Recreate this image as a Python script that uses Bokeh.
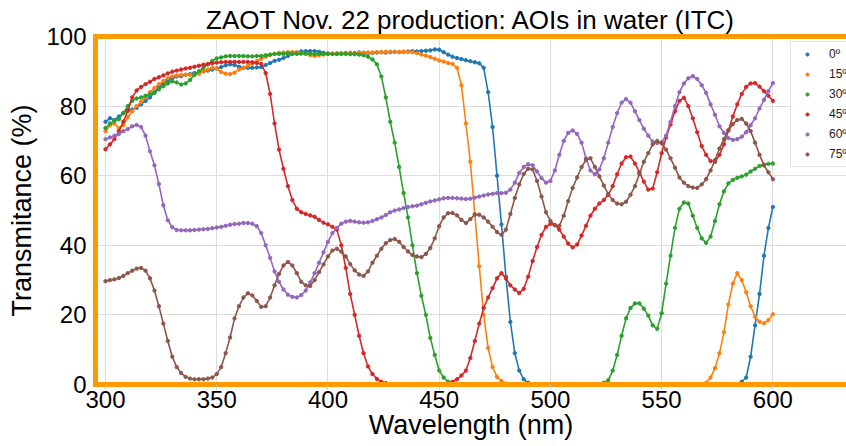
from bokeh.plotting import figure
from bokeh.models import Range1d, FixedTicker, LinearAxis, Legend, LegendItem
from bokeh.embed import file_html
from bokeh.resources import INLINE

# sampling grid (nm)
wavelength = list(range(300, 601, 2))

t0 = [75.5, 76.5, 76.0, 77.0, 78.0, 79.0, 79.0, 79.5, 80.5, 81.5,
      82.5, 84.0, 85.5, 86.6, 87.3, 88.0, 88.5, 88.6, 89.0, 89.2,
      89.5, 89.7, 90.0, 90.2, 90.5, 90.8, 91.2, 91.7, 92.0, 91.8,
      91.3, 91.0, 91.0, 91.0, 91.1, 91.2, 91.8, 92.4, 93.0, 93.3,
      93.8, 94.4, 95.0, 95.5, 95.7, 95.8, 95.8, 95.8, 95.6, 95.3,
      95.1, 95.0, 95.0, 95.1, 95.2, 95.3, 95.3, 95.4, 95.3, 95.2,
      95.3, 95.4, 95.5, 95.4, 95.5, 95.6, 95.5, 95.6, 95.7, 95.8,
      95.7, 95.8, 95.9, 96.0, 96.3, 96.2, 95.5, 94.8, 94.2, 93.8,
      93.5, 93.2, 92.9, 92.6, 92.3, 91.0, 84.0, 74.0, 60.0, 46.0,
      31.0, 18.0, 9.0, 4.0, 1.5, 0.5, 0.0, 0.0, 0.0, 0.0,
      0.0, 0.0, 0.0, 0.0, 0.0, 0.0, 0.0, 0.0, 0.0, 0.0,
      0.0, 0.0, 0.0, 0.0, 0.0, 0.0, 0.0, 0.0, 0.0, 0.0,
      0.0, 0.0, 0.0, 0.0, 0.0, 0.0, 0.0, 0.0, 0.0, 0.0,
      0.0, 0.0, 0.0, 0.0, 0.0, 0.0, 0.0, 0.0, 0.0, 0.0,
      0.0, 0.0, 0.0, 0.8, 2.0, 8.0, 17.0, 26.0, 37.0, 45.0,
      51.0]

t15 = [72.8, 74.5, 75.0, 73.6, 74.5, 76.8, 78.5, 80.0, 81.2, 82.5,
       84.0, 85.2, 86.3, 87.2, 88.0, 88.5, 88.8, 89.0, 89.0, 89.0,
       89.0, 89.3, 90.0, 90.5, 91.0, 90.8, 89.8, 89.3, 89.2, 89.6,
       90.5, 91.0, 91.6, 92.2, 92.9, 93.6, 94.2, 94.7, 95.0, 95.3,
       95.4, 95.5, 95.5, 95.5, 95.2, 95.0, 94.6, 94.4, 94.6, 94.8,
       95.0, 95.1, 95.2, 95.2, 95.3, 95.3, 95.2, 95.3, 95.4, 95.4,
       95.4, 95.5, 95.5, 95.6, 95.6, 95.6, 95.6, 95.6, 95.6, 95.5,
       95.2, 94.8, 94.5, 94.1, 93.6, 93.1, 92.8, 92.4, 92.1, 91.0,
       86.0, 75.0, 64.0, 49.0, 34.0, 20.0, 10.5, 5.0, 2.2, 1.0,
       0.3, 0.0, 0.0, 0.0, 0.0, 0.0, 0.0, 0.0, 0.0, 0.0,
       0.0, 0.0, 0.0, 0.0, 0.0, 0.0, 0.0, 0.0, 0.0, 0.0,
       0.0, 0.0, 0.0, 0.0, 0.0, 0.0, 0.0, 0.0, 0.0, 0.0,
       0.0, 0.0, 0.0, 0.0, 0.0, 0.0, 0.0, 0.0, 0.0, 0.0,
       0.0, 0.0, 0.0, 0.0, 0.0, 0.5, 2.0, 4.7, 9.0, 15.0,
       23.0, 29.0, 32.0, 30.0, 26.5, 22.5, 19.5, 18.0, 17.6, 18.5,
       20.2]

t30 = [73.7, 75.0, 75.8, 76.2, 78.0, 80.0, 81.5, 82.2, 82.5, 83.0,
       83.4, 83.8, 84.8, 85.7, 86.5, 87.1, 86.8, 86.2, 86.5, 87.5,
       89.0, 90.0, 91.0, 92.0, 93.0, 93.7, 94.0, 94.3, 94.4, 94.4,
       94.4, 94.4, 94.3, 94.3, 94.4, 94.4, 94.6, 94.8, 95.0, 95.0,
       95.0, 95.1, 95.1, 95.0, 95.1, 95.1, 95.1, 95.0, 95.0, 95.0,
       95.0, 95.0, 95.0, 95.0, 95.0, 94.9, 94.9, 94.8, 94.6, 94.2,
       93.4, 92.0, 88.5, 82.5, 75.5, 69.5, 62.5, 55.0, 48.0, 40.0,
       32.0, 25.5, 20.0, 13.4, 8.5, 4.0, 2.0, 0.8, 0.3, 0.0,
       0.0, 0.0, 0.0, 0.0, 0.0, 0.0, 0.0, 0.0, 0.0, 0.0,
       0.0, 0.0, 0.0, 0.0, 0.0, 0.0, 0.0, 0.0, 0.0, 0.0,
       0.0, 0.0, 0.0, 0.0, 0.0, 0.0, 0.0, 0.0, 0.0, 0.0,
       0.0, 0.0, 0.5, 1.2, 4.0, 8.5, 14.0, 19.0, 22.0, 23.3,
       23.3, 21.8, 19.8, 17.0, 16.0, 20.5, 29.0, 37.0, 45.0, 50.5,
       52.3, 52.0, 48.5, 45.0, 42.0, 40.7, 42.5, 47.0, 51.8, 55.5,
       57.8, 58.8, 59.4, 59.8, 60.3, 61.2, 62.0, 62.8, 63.2, 63.4,
       63.5]

t45 = [67.6, 69.0, 70.5, 72.8, 75.5, 78.6, 82.5, 84.5, 85.5, 86.3,
       87.0, 87.8, 88.3, 88.8, 89.4, 89.9, 90.2, 90.5, 90.8, 91.0,
       91.3, 91.6, 91.9, 92.1, 92.3, 92.5, 92.6, 92.7, 92.7, 92.7,
       92.7, 92.7, 92.7, 92.6, 92.4, 92.1, 89.5, 83.5, 75.0, 67.5,
       62.0, 57.0, 53.0, 50.5, 49.5, 49.0, 48.6, 48.2, 47.3, 46.5,
       46.0, 45.3, 44.5, 40.0, 33.5, 26.0, 20.0, 14.0, 9.0, 5.2,
       3.0, 1.6, 0.8, 0.4, 0.0, 0.0, 0.0, 0.0, 0.0, 0.0,
       0.0, 0.0, 0.0, 0.0, 0.0, 0.0, 0.0, 0.0, 0.8, 1.5,
       2.6, 4.0, 7.6, 12.5, 17.5, 22.0, 25.0, 27.7, 30.5, 32.0,
       30.5, 28.5, 27.3, 26.3, 27.5, 31.0, 35.5, 39.5, 43.0, 45.3,
       46.2, 45.8, 44.5, 42.5, 40.5, 39.4, 40.2, 42.8, 45.6, 48.5,
       50.5, 52.0, 53.0, 54.5, 57.0, 60.4, 63.5, 65.3, 65.5, 63.5,
       61.0, 58.3, 56.0, 56.3, 61.0, 66.5, 71.0, 74.7, 78.5, 81.5,
       82.4, 80.0, 76.5, 72.5, 68.5, 66.0, 64.2, 64.0, 66.0, 69.0,
       73.0, 77.0, 80.5, 83.5, 85.5, 86.5, 86.6, 85.6, 84.3, 83.0,
       81.5]

t60 = [70.5, 71.0, 71.5, 72.0, 72.8, 73.4, 74.2, 74.6, 74.0, 71.5,
       67.0, 63.0, 57.6, 51.5, 47.2, 45.2, 44.4, 44.3, 44.3, 44.3,
       44.4, 44.5, 44.6, 44.7, 44.9, 45.1, 45.3, 45.6, 45.9, 46.1,
       46.2, 46.4, 46.4, 46.2, 45.5, 43.5, 40.0, 36.4, 32.5, 29.5,
       27.3, 25.8, 25.2, 25.0, 25.7, 27.0, 29.3, 32.0, 35.0, 38.0,
       41.0, 43.5, 45.0, 46.2, 46.8, 47.0, 46.8, 46.6, 46.5, 46.6,
       47.0, 47.5, 48.0, 48.7, 49.5, 50.0, 50.3, 50.7, 51.0, 51.2,
       51.4, 51.8, 52.2, 52.6, 52.9, 53.2, 53.5, 53.6, 53.6, 53.5,
       53.4, 53.3, 53.4, 53.7, 54.0, 54.3, 54.6, 54.8, 55.0, 55.0,
       55.1, 56.0, 58.0, 60.8, 62.5, 63.3, 63.0, 61.2, 59.3, 58.0,
       58.5, 61.5, 66.0, 70.0, 72.3, 73.0, 72.0, 69.5, 65.0, 61.5,
       60.4, 61.8, 65.0, 69.5, 74.0, 78.0, 81.0, 82.0, 81.0, 78.5,
       76.0, 73.5, 71.5, 69.8, 69.4, 69.6, 71.5, 75.5, 80.0, 84.0,
       86.5, 88.0, 88.6, 87.8, 86.0, 83.8, 80.5, 77.5, 74.2, 72.3,
       70.8, 70.3, 70.5, 71.2, 72.5, 74.5, 76.5, 79.3, 81.8, 84.3,
       86.6]

t75 = [29.7, 30.0, 30.2, 30.6, 31.2, 32.0, 32.7, 33.3, 33.5, 32.7,
       30.5, 27.0, 22.5, 17.5, 12.5, 8.0, 5.0, 3.3, 2.2, 1.7,
       1.5, 1.5, 1.5, 1.7, 2.0, 3.0, 5.0, 9.0, 13.5, 19.0,
       22.5, 25.0, 26.2, 25.6, 24.0, 22.3, 22.5, 25.0, 28.5, 31.8,
       34.2, 35.2, 34.2, 32.0, 29.5, 28.5, 28.3, 30.0, 32.3, 34.5,
       36.8, 38.5, 39.0, 38.2, 36.8, 34.6, 32.8, 31.6, 31.2, 32.5,
       35.0, 37.0, 39.0, 40.6, 41.5, 41.8, 41.0, 39.5, 38.2, 37.2,
       36.8, 36.6, 37.5, 39.2, 42.0, 45.5, 48.0, 49.2, 49.3, 48.6,
       47.3, 46.4, 47.5, 48.8, 48.8, 48.0, 46.8, 45.3, 43.8, 43.0,
       44.5, 49.0, 53.6, 57.5, 60.5, 62.0, 61.8, 58.5, 54.0, 49.5,
       47.0, 45.8, 45.6, 48.5, 52.7, 56.5, 59.5, 62.5, 64.5, 65.0,
       62.5, 59.8, 57.2, 54.7, 53.0, 52.0, 51.8, 52.5, 54.5, 57.0,
       60.5, 64.0, 66.5, 69.0, 70.0, 69.3, 67.5, 65.0, 62.3, 59.5,
       58.0, 57.0, 56.6, 56.5, 57.5, 59.0, 61.5, 64.5, 67.8, 70.5,
       73.0, 74.8, 76.0, 76.3, 75.0, 72.8, 69.5, 66.0, 63.0, 61.0,
       59.0]

series = [t0, t15, t30, t45, t60, t75]
labels = ["0º", "15º", "30º", "45º", "60º", "75º"]
colors = ["#1f77b4", "#ff7f0e", "#2ca02c", "#d62728", "#9467bd", "#8c564b"]
x_ticks = [300, 350, 400, 450, 500, 550, 600]
y_ticks = [0, 20, 40, 60, 80, 100]

FONT = "Liberation Sans"
ORANGE = "#ff9a00"
GRID = "#dcdcdc"

p = figure(width=846, height=446,
           x_range=Range1d(295.5, 633.1), y_range=Range1d(0, 100),
           output_backend="svg", toolbar_location=None,
           min_border_left=95, min_border_right=0,
           min_border_top=36, min_border_bottom=62,
           title="ZAOT Nov. 22 production: AOIs in water (ITC)")
p.outline_line_color = None
p.background_fill_color = "white"
p.border_fill_color = "white"

p.title.text_font = FONT
p.title.text_font_size = "26px"
p.title.text_font_style = "normal"
p.title.text_color = "black"
p.title.align = "center"
p.title.standoff = 3

# axes
xa = p.xaxis[0]
xa.ticker = FixedTicker(ticks=x_ticks)
xa.axis_label = "Wavelength (nm)"
xa.axis_label_text_font = FONT
xa.axis_label_text_font_size = "27px"
xa.axis_label_text_font_style = "normal"
xa.axis_label_text_color = "black"
xa.axis_label_standoff = -1
xa.major_label_text_font = FONT
xa.major_label_text_font_size = "24px"
xa.major_label_text_color = "black"
xa.major_label_standoff = 1
xa.major_tick_out = 5
xa.major_tick_in = 0
xa.major_tick_line_color = "#c8c8c8"
xa.minor_tick_line_color = None
xa.axis_line_color = ORANGE
xa.axis_line_width = 5
xa.axis_line_cap = "square"

ya = p.yaxis[0]
ya.ticker = FixedTicker(ticks=y_ticks)
ya.axis_label = "Transmitance (%)"
ya.axis_label_text_font = FONT
ya.axis_label_text_font_size = "27px"
ya.axis_label_text_font_style = "normal"
ya.axis_label_text_color = "black"
ya.axis_label_standoff = 6
ya.major_label_text_font = FONT
ya.major_label_text_font_size = "24px"
ya.major_label_text_color = "black"
ya.major_label_standoff = 9
ya.major_tick_out = 0
ya.major_tick_in = 0
ya.major_tick_line_color = None
ya.minor_tick_line_color = None
ya.axis_line_color = ORANGE
ya.axis_line_width = 5
ya.axis_line_cap = "square"

top = LinearAxis(ticker=FixedTicker(ticks=[]), major_label_text_font_size="0px",
                 major_tick_out=0, major_tick_in=0, minor_tick_out=0, minor_tick_in=0,
                 major_label_standoff=0, axis_line_color=ORANGE, axis_line_width=5,
                 axis_line_cap="square")
p.add_layout(top, "above")

p.xgrid.ticker = FixedTicker(ticks=x_ticks)
p.ygrid.ticker = FixedTicker(ticks=y_ticks)
p.xgrid.grid_line_color = GRID
p.ygrid.grid_line_color = GRID
p.xgrid.grid_line_width = 1
p.ygrid.grid_line_width = 1

items = []
for vals, col, lab in zip(series, colors, labels):
    p.line(wavelength, vals, line_color=col, line_width=1.6)
    r = p.scatter(wavelength, vals, size=3.4, fill_color=col, line_color=col)
    items.append(LegendItem(label=lab, renderers=[r]))

legend = Legend(items=items, location=(695, 217), margin=0, padding=2, spacing=0,
                label_height=20, glyph_height=8, glyph_width=28, label_standoff=8,
                label_text_font=FONT, label_text_font_size="12px",
                label_text_color="#222222",
                border_line_color="#cccccc", border_line_width=1,
                background_fill_color="white", background_fill_alpha=0.85)
p.add_layout(legend)

open("out.html", "w").write(file_html(p, INLINE))
